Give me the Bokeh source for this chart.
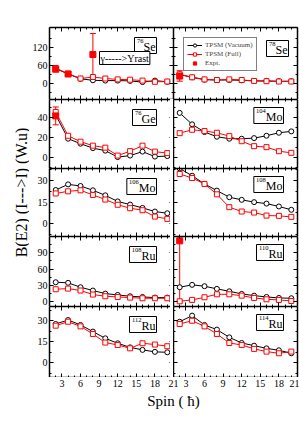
from math import pi
from bokeh.plotting import figure
from bokeh.models import (Range1d, FixedTicker, LinearAxis, Label, Legend, LegendItem,
                          Whisker, TeeHead, ColumnDataSource, GridBox, CustomLabelingPolicy)
from bokeh.embed import file_html
from bokeh.resources import INLINE

# ---------------- data ----------------
spins = [2, 4, 6, 8, 10, 12, 14, 16, 18, 20]
x_major = [3, 6, 9, 12, 15, 18, 21]
x_minor = [1, 2, 4, 5, 7, 8, 10, 11, 13, 14, 16, 17, 19, 20]

se76_vac = [48, 30, 14, 9, 8, 8, 7, 3, 8, 4]
se76_full = [50, 31, 15, 20, 15, 12, 11, 8, 4, 5]
se76_exp_spin = [2, 4, 8]
se76_exp = [46, 30, 95]
se76_exp_lo = [38, 26, 22]
se76_exp_hi = [54, 34, 165]

se78_vac = [28, 19, 11, 10, 10, 9, 7, 7, 6, 6]
se78_full = [29, 19, 12, 10, 12, 10, 7, 6, 5, 5]
se78_exp_spin = [2]
se78_exp = [23]
se78_exp_lo = [6]
se78_exp_hi = [41]

ge76_vac = [43, 19, 14, 9.5, 7, 0.5, 2, 6, 1, 1.5]
ge76_full = [46, 22, 16, 12, 10, 2, 6.5, 12, 6, 4.5]
ge76_exp_spin = [2]
ge76_exp = [42]
ge76_exp_lo = [33]
ge76_exp_hi = [51]

mo104_vac = [45, 33.5, 25.7, 21, 19, 19, 19.6, 22, 25, 26.4]
mo104_full = [24.6, 28, 26.7, 25, 21.6, 16.5, 11.5, 10.5, 6.4, 4.8]

mo106_vac = [23.4, 27.3, 26.2, 23.2, 19.7, 15.5, 13.3, 11, 8.5, 7.3]
mo106_full = [21, 22.5, 23.2, 20, 16.8, 13.2, 10.8, 9.4, 5, 3.4]

mo108_vac = [38.3, 33.3, 27.6, 23, 18.4, 16.6, 15, 14, 12, 9.7]
mo108_full = [34.5, 31.7, 27.6, 20.4, 11.5, 8.5, 7.8, 5.7, 5.5, 4.8]

ru108_vac = [35.7, 34.6, 26.5, 20.4, 14.8, 12.3, 9.9, 8.6, 7.4, 7.4]
ru108_full = [22.8, 24, 20.4, 13, 9.9, 8.6, 7.4, 6.2, 6.2, 6.2]

ru110_vac = [26.5, 30.9, 28.4, 23.5, 19, 14.2, 11, 8.6, 6.8, 6.2]
ru110_full = [0.6, 3.1, 8, 13.5, 13.5, 11, 6.8, 4.3, 3.1, 1.2]
ru110_exp_spin = [2]
ru110_exp = [112]
ru110_exp_lo = [1]
ru110_exp_hi = [112]

ru112_vac = [27.6, 30.4, 26.9, 22.2, 17.4, 13.9, 11, 9.2, 7.8, 7.5]
ru112_full = [26.4, 29.2, 25.9, 20.5, 14.4, 12.7, 10.3, 13.9, 13, 11.8]

ru114_vac = [29.2, 33.5, 26.9, 23.6, 18.1, 14.1, 12.2, 10.3, 8.9, 6.8]
ru114_full = [27.6, 29.9, 25.9, 20.5, 14.1, 12.7, 9.9, 8, 6.8, 8]

# row y-ranges and ticks
row_ranges = [(-55, 185), (-11, 58.5), (-8.8, 38.3), (-9, 120), (-10.4, 40)]
row_major = [[0, 60, 120], [0, 20, 40], [0, 15, 30], [0, 30, 60, 90], [0, 15, 30]]
row_minor = [[-30, 30, 90, 150], [-10, 10, 30, 50], [-7.5, 7.5, 22.5, 37.5],
             [15, 45, 75, 105], [-7.5, 7.5, 22.5, 37.5]]

# ---------------- layout ----------------
FW = 124
frame_h = [72, 69, 68, 70, 71]
TOP = 27
LEFT_B = 17
RIGHT_B = 5
YL_W = 29
FONT = "Liberation Serif"
RED = "#ff0000"
# approximate advance widths (px) of the element symbols at 12px, for the boxed labels
ELEM_W = {"Se": 12.0, "Ge": 14.0, "Mo": 16.7, "Ru": 14.0}
SUP_PX = 3.3  # width per digit of the 6.5px mass number

NO_LABELS = "for (const i of indices) indices.unset(i); return indices"


def make_panel(r, c, mass, elem, vac, full, exp=None, legend=False, gamma=False):
    fh = frame_h[r]
    y0, y1 = row_ranges[r]
    upp_y = (y1 - y0) / fh          # data units per pixel (y)
    upp_x = 20.0 / FW               # data units per pixel (x)
    p = figure(frame_width=FW, frame_height=fh,
               x_range=Range1d(1, 21), y_range=Range1d(y0, y1),
               output_backend="svg", toolbar_location=None,
               x_axis_type=None, y_axis_type=None,
               min_border_left=LEFT_B if c == 0 else 0,
               min_border_right=RIGHT_B if c == 1 else 0,
               min_border_top=TOP if r == 0 else 0,
               min_border_bottom=0,
               outline_line_color=None,
               background_fill_color="white", border_fill_color="white")
    xt = FixedTicker(ticks=x_major, minor_ticks=x_minor)
    yt = FixedTicker(ticks=row_major[r], minor_ticks=row_minor[r])
    for loc, tk, show in [("below", xt, False), ("above", xt, False),
                          ("left", yt, c == 0), ("right", yt, False)]:
        ax = LinearAxis(ticker=tk, axis_line_width=1.5, axis_line_color="black",
                        major_tick_in=4, major_tick_out=0,
                        minor_tick_in=2, minor_tick_out=0,
                        major_tick_line_width=1, minor_tick_line_width=1,
                        major_label_text_font=FONT,
                        major_label_text_font_size="10px",
                        major_label_text_color="black",
                        major_label_standoff=2)
        if not show:
            ax.major_label_text_font_size = "0px"
            ax.major_label_standoff = 0
            ax.major_label_policy = CustomLabelingPolicy(code=NO_LABELS)
        p.add_layout(ax, loc)

    lv = p.line(spins, vac, line_color="black", line_width=1)
    sv = p.scatter(spins, vac, marker="circle", size=5, line_color="black",
                   fill_color="white", line_width=1)
    lf = p.line(spins, full, line_color=RED, line_width=1)
    sf = p.scatter(spins, full, marker="square", size=5, line_color=RED,
                   fill_color="white", line_width=1)
    se = None
    if exp is not None:
        es, ev, elo, ehi = exp
        src = ColumnDataSource(dict(x=es, y=ev, lo=elo, hi=ehi))
        w = Whisker(source=src, base="x", lower="lo", upper="hi", dimension="height",
                    line_color=RED, line_width=1,
                    upper_head=TeeHead(size=6, line_color=RED, line_width=1),
                    lower_head=TeeHead(size=6, line_color=RED, line_width=1))
        p.add_layout(w)
        se = p.scatter("x", "y", source=src, marker="square", size=6,
                       line_color=RED, fill_color=RED)

    # nuclide label box: offsets (pixels) from the frame's top-right corner
    if c == 0:
        rx, ty = 17, 10
    else:
        rx, ty = 14, 8
    if legend:
        rx, ty = 9, 13
    sup_w = int(round(SUP_PX * len(mass))) + 2
    xr = 21 - rx * upp_x
    yt_ = y1 - ty * upp_y
    p.add_layout(Label(x=xr, y=yt_,
                       text=elem, anchor="top_right",
                       text_align="right", text_baseline="top",
                       text_font=FONT, text_font_size="12px", text_color="black",
                       border_line_color="black", border_line_width=1,
                       background_fill_color="white",
                       padding=dict(left=sup_w, right=1, top=2, bottom=0)))
    p.add_layout(Label(x=xr - (1 + ELEM_W[elem]) * upp_x, y=yt_ - 1.5 * upp_y,
                       text=mass, anchor="top_right",
                       text_align="right", text_baseline="top",
                       text_font=FONT, text_font_size="6.5px", text_color="black"))
    if gamma:
        p.add_layout(Label(x=1 + 50 * upp_x, y=y1 - 24 * upp_y,
                           text="γ----->Yrast", anchor="top_left",
                           text_align="left", text_baseline="top",
                           text_font=FONT, text_font_size="10px", text_color="black",
                           border_line_color="black", border_line_width=1,
                           background_fill_color="white", padding=1))
    if legend:
        items = [LegendItem(label="TPSM (Vacuum)", renderers=[lv, sv]),
                 LegendItem(label="TPSM (Full)", renderers=[lf, sf])]
        if se is not None:
            items.append(LegendItem(label="Expt.", renderers=[se]))
        lg = Legend(items=items, location="top_left", margin=10,
                    label_text_font=FONT, label_text_font_size="7px",
                    label_height=8, glyph_height=8, glyph_width=15,
                    label_standoff=3, spacing=1, padding=3,
                    border_line_color="black", border_line_width=1,
                    background_fill_color="white", background_fill_alpha=1)
        p.add_layout(lg)
    return p


panels = [
    (0, 0, make_panel(0, 0, "76", "Se", se76_vac, se76_full,
                      (se76_exp_spin, se76_exp, se76_exp_lo, se76_exp_hi), gamma=True)),
    (0, 1, make_panel(0, 1, "78", "Se", se78_vac, se78_full,
                      (se78_exp_spin, se78_exp, se78_exp_lo, se78_exp_hi), legend=True)),
    (1, 0, make_panel(1, 0, "76", "Ge", ge76_vac, ge76_full,
                      (ge76_exp_spin, ge76_exp, ge76_exp_lo, ge76_exp_hi))),
    (1, 1, make_panel(1, 1, "104", "Mo", mo104_vac, mo104_full)),
    (2, 0, make_panel(2, 0, "106", "Mo", mo106_vac, mo106_full)),
    (2, 1, make_panel(2, 1, "108", "Mo", mo108_vac, mo108_full)),
    (3, 0, make_panel(3, 0, "108", "Ru", ru108_vac, ru108_full)),
    (3, 1, make_panel(3, 1, "110", "Ru", ru110_vac, ru110_full,
                      (ru110_exp_spin, ru110_exp, ru110_exp_lo, ru110_exp_hi))),
    (4, 0, make_panel(4, 0, "112", "Ru", ru112_vac, ru112_full)),
    (4, 1, make_panel(4, 1, "114", "Ru", ru114_vac, ru114_full)),
]

# y-axis title
YL_H = TOP + sum(frame_h)
ylab = figure(width=YL_W, height=YL_H, x_range=(0, 1), y_range=(0, 1),
              output_backend="svg", toolbar_location=None,
              x_axis_type=None, y_axis_type=None, min_border=0,
              outline_line_color=None)
ylab.add_layout(Label(x=20.5, y=YL_H - 192, x_units="screen", y_units="screen",
                      text="B(E2) (I--->I) (W.u)", angle=pi / 2,
                      text_align="center", text_baseline="middle",
                      text_font=FONT, text_font_size="16px", text_color="black"))

# shared spin axis under both columns: right column shifted by one column span
span = 20
x_all = x_major + [t + span for t in x_major if t > 1]
x_labels = {t: str(t) for t in x_major}
x_labels.update({t + span: str(t) for t in x_major})
xlab = figure(frame_width=2 * FW, frame_height=1,
              x_range=Range1d(1, 21 + span), y_range=(0, 1),
              output_backend="svg", toolbar_location=None,
              x_axis_type=None, y_axis_type=None,
              min_border_left=LEFT_B, min_border_right=RIGHT_B,
              min_border_top=0, min_border_bottom=0,
              outline_line_color=None)
xax = LinearAxis(ticker=FixedTicker(ticks=x_all, minor_ticks=[]),
                 major_label_overrides=x_labels,
                 axis_line_color=None, major_tick_line_color=None,
                 minor_tick_line_color=None, major_tick_in=0, major_tick_out=0,
                 major_label_text_font=FONT, major_label_text_font_size="10px",
                 major_label_text_color="black", major_label_standoff=1,
                 axis_label="Spin ( ħ)", axis_label_text_font=FONT,
                 axis_label_text_font_size="15px", axis_label_text_font_style="normal",
                 axis_label_text_color="black", axis_label_standoff=3)
xlab.add_layout(xax, "below")

children = [(ylab, 0, 0, 5, 1)]
for r, c, p in panels:
    children.append((p, r, c + 1))
children.append((xlab, 5, 1, 1, 2))
grid = GridBox(children=children, spacing=0)

open("out.html", "w").write(file_html(grid, INLINE))
